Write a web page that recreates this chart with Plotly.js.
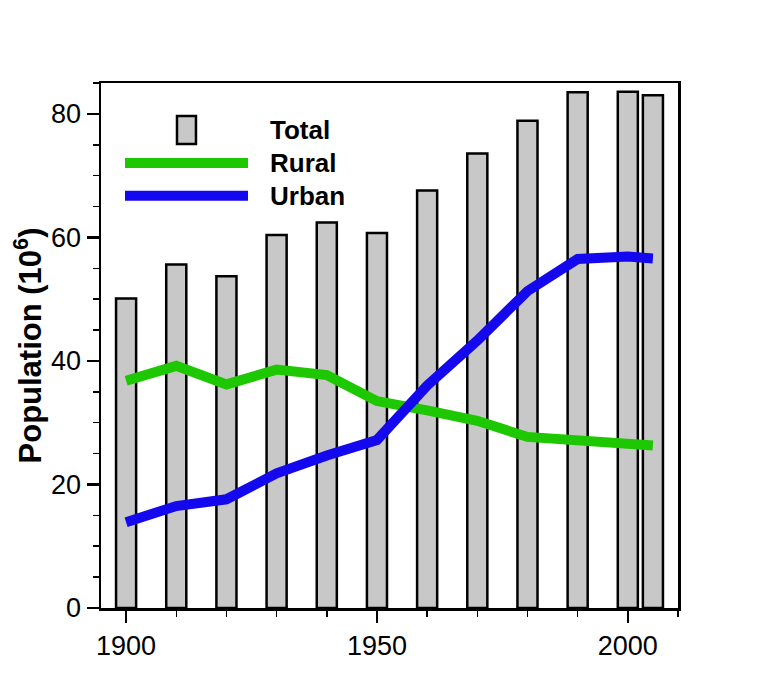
<!DOCTYPE html>
<html>
<head>
<meta charset="utf-8">
<script src="https://cdn.plot.ly/plotly-3.0.1.min.js"></script>
<style>
  html, body { margin: 0; padding: 0; background: #fff; }
  #chart { width: 771px; height: 686px; }
</style>
</head>
<body>
<div id="chart"></div>
<script>
const years = [1900, 1910, 1920, 1930, 1940, 1950, 1960, 1970, 1980, 1990, 2000, 2005];
const total = [50.1, 55.6, 53.7, 60.4, 62.4, 60.7, 67.6, 73.6, 78.9, 83.5, 83.6, 83.0];
const rural = [36.8, 39.2, 36.2, 38.6, 37.7, 33.5, 32.0, 30.3, 27.7, 27.0, 26.6, 26.3];
const urban = [13.9, 16.5, 17.6, 21.8, 24.7, 27.2, 36.0, 43.3, 51.3, 56.5, 56.9, 56.6];
const legendNames = ['Total', 'Rural', 'Urban'];

const font = 'Liberation Sans, Arial, Helvetica, sans-serif';
const green = '#1ec800';
const blue = '#1408ef';

const barTrace = {
  x: years,
  y: total,
  type: 'bar',
  width: 4,
  marker: { color: '#c8c8c8', line: { color: '#000', width: 2.5 } },
  showlegend: false
};
const ruralTrace = {
  x: years,
  y: rural,
  mode: 'lines',
  line: { color: green, width: 10 },
  showlegend: false
};
const urbanTrace = {
  x: years,
  y: urban,
  mode: 'lines',
  line: { color: blue, width: 10 },
  showlegend: false
};

// hand-made legend (long line samples like the original)
const legY = [0.9105, 0.8476, 0.7853];
const shapes = [
  { type: 'rect', xref: 'paper', yref: 'paper', x0: 0.1317, x1: 0.1646, y0: 0.884, y1: 0.937,
    fillcolor: '#c8c8c8', line: { color: '#000', width: 2.5 } },
  { type: 'line', xref: 'paper', yref: 'paper', x0: 0.0416, x1: 0.2548, y0: legY[1], y1: legY[1],
    line: { color: green, width: 10 } },
  { type: 'line', xref: 'paper', yref: 'paper', x0: 0.0416, x1: 0.2548, y0: legY[2], y1: legY[2],
    line: { color: blue, width: 10 } }
];
const annotations = legendNames.map((name, i) => ({
  text: '<b>' + name + '</b>',
  xref: 'paper', yref: 'paper',
  x: 0.2894, y: legY[i],
  xanchor: 'left', yanchor: 'middle',
  showarrow: false,
  font: { family: font, size: 26, color: '#000' }
}));

const layout = {
  width: 771,
  height: 686,
  margin: { l: 101, r: 93, t: 83, b: 78 },
  paper_bgcolor: '#fff',
  plot_bgcolor: '#fff',
  font: { family: font, color: '#000' },
  showlegend: false,
  bargap: 0,
  xaxis: {
    range: [1895, 2010],
    tickvals: [1900, 1950, 2000],
    ticks: 'outside',
    ticklen: 12,
    tickwidth: 2.5,
    tickcolor: '#000',
    tickfont: { family: font, size: 27, color: '#000' },
    showline: true,
    linewidth: 2.5,
    linecolor: '#000',
    mirror: true,
    showgrid: false,
    zeroline: false,
    minor: { tick0: 1900, dtick: 10, ticks: 'outside', ticklen: 6, tickwidth: 1.5, tickcolor: '#000', showgrid: false }
  },
  yaxis: {
    range: [0, 85],
    tickvals: [0, 20, 40, 60, 80],
    ticks: 'outside',
    ticklen: 12,
    tickwidth: 2.5,
    tickcolor: '#000',
    tickfont: { family: font, size: 27, color: '#000' },
    showline: true,
    linewidth: 2.5,
    linecolor: '#000',
    mirror: true,
    showgrid: false,
    zeroline: false,
    minor: { tick0: 0, dtick: 5, ticks: 'outside', ticklen: 6, tickwidth: 1.5, tickcolor: '#000', showgrid: false },
    title: {
      text: '<b>Population (10<sup>6</sup>)</b>',
      font: { family: font, size: 31, color: '#000' },
      standoff: 0
    }
  },
  shapes,
  annotations
};

Plotly.newPlot('chart', [barTrace, ruralTrace, urbanTrace], layout, { displayModeBar: false, staticPlot: true });
</script>
</body>
</html>
